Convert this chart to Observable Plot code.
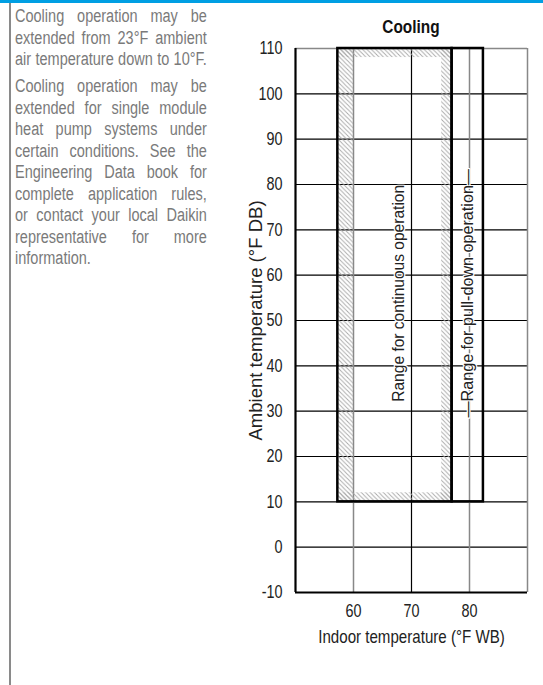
<!DOCTYPE html>
<html><head><meta charset="utf-8">
<script src="https://cdn.jsdelivr.net/npm/d3@7"></script>
<script src="https://cdn.jsdelivr.net/npm/@observablehq/plot@0.6"></script>
<style>
body{margin:0;width:543px;height:685px;position:relative;overflow:hidden;background:#fff;font-family:"Liberation Sans",Arial,sans-serif;}
#bar{position:absolute;left:0;top:0;width:543px;height:3px;background:#009fe3;}
#rule{position:absolute;left:9px;top:3px;width:2px;height:682px;background:#8a8a8a;}
#note{position:absolute;left:15px;top:6px;width:238px;color:#7a7a7a;font-size:18px;line-height:21.5px;transform:scaleX(0.806);transform-origin:0 0;}
#note p{margin:0 0 5.5px 0;}
#note .l{text-align:justify;text-align-last:justify;white-space:nowrap;}
#note .last{text-align:left;text-align-last:left;}
#title{position:absolute;left:295px;width:232px;top:17px;text-align:center;font-weight:bold;font-size:17.5px;color:#111;transform:scaleX(0.88);}
#chart{position:absolute;left:230px;top:40px;}
</style></head><body>
<div id="bar"></div>
<div id="rule"></div>
<div id="note"></div>
<div id="title">Cooling</div>
<div id="chart"></div>
<script>
// ---- data ----
const noteParagraph1 = ["Cooling operation may be", "extended from 23°F ambient", "air temperature down to 10°F."];
const noteParagraph2 = ["Cooling operation may be", "extended for single module", "heat pump systems under", "certain conditions. See the", "Engineering Data book for", "complete application rules,", "or contact your local Daikin", "representative for more", "information."];

const yTicks = [-10, 0, 10, 20, 30, 40, 50, 60, 70, 80, 90, 100, 110];
const xTicks = [60, 70, 80];
const xGridGray = [60, 80];
const xGridBlack = [70];
const xLabel = "Indoor temperature (°F WB)";
const yLabel = "Ambient temperature (°F DB)";

const rangeNames = ["Range for continuous operation", "—Range for pull-down operation—"];
const rangeX1 = [57.3, 77];
const rangeX2 = [77, 82.4];
const rangeYLow = [10, 10];
const rangeYHigh = [110, 110];
const rangeLabelX = [67.7, 79.6];
const rangeLabelY = [56, 56];

// hatched margin inside the continuous range (left, right, top, bottom)
const hatchX1 = [57.3, 75.2, 57.3, 57.3];
const hatchX2 = [60, 77, 77, 77];
const hatchY1 = [10, 10, 108, 10];
const hatchY2 = [110, 110, 110, 12];

// ---- note text ----
const note = document.getElementById("note");
[noteParagraph1, noteParagraph2].forEach((lines, pi) => {
  const p = document.createElement("p");
  lines.forEach((t, i) => {
    const d = document.createElement("div");
    d.className = "l" + (pi === 1 && i === lines.length - 1 ? " last" : "");
    d.textContent = t;
    p.appendChild(d);
  });
  note.appendChild(p);
});

// ---- tables ----
const ranges = rangeNames.map((n, i) => ({x1: rangeX1[i], x2: rangeX2[i], y1: rangeYLow[i], y2: rangeYHigh[i]}));
const labels = rangeNames.map((n, i) => ({text: n, x: rangeLabelX[i], y: rangeLabelY[i]}));
const hatch = hatchX1.map((v, i) => ({x1: v, x2: hatchX2[i], y1: hatchY1[i], y2: hatchY2[i]}));

const font = '"Liberation Sans",Arial,sans-serif';
const plot = Plot.plot({
  width: 313, height: 620,
  marginLeft: 65, marginRight: 16, marginTop: 8, marginBottom: 68,
  style: {fontFamily: font, fontSize: "18px", color: "#222", background: "transparent", overflow: "visible"},
  x: {domain: [50, 90]},
  y: {domain: [-10, 110]},
  marks: [
    Plot.ruleY(yTicks, {stroke: "#000", strokeWidth: 1.2}),
    Plot.ruleX(xGridGray, {stroke: "#888", strokeWidth: 1.5}),
    Plot.ruleX(xGridBlack, {stroke: "#000", strokeWidth: 1.2}),
    Plot.rect(hatch, {x1: "x1", x2: "x2", y1: "y1", y2: "y2", fill: "url(#hatch)"}),
    Plot.ruleY([110], {stroke: "#888", strokeWidth: 1.5}),
    Plot.ruleX([90], {stroke: "#888", strokeWidth: 1.5}),
    Plot.ruleX([50], {stroke: "#000", strokeWidth: 2.2}),
    Plot.ruleY([-10], {stroke: "#000", strokeWidth: 2.2}),
    Plot.rect(ranges, {x1: "x1", x2: "x2", y1: "y1", y2: "y2", fill: "none", stroke: "#000", strokeWidth: 2.5}),
    Plot.text(labels, {x: "x", y: "y", text: "text", rotate: -90, fontSize: 17, fill: "#222", stroke: "white", strokeWidth: 2.5, paintOrder: "stroke"}),
    Plot.axisX({ticks: xTicks, tickSize: 0, tickPadding: 12, tickFormat: d => String(d), label: null, fontSize: 18}),
    Plot.axisY({ticks: yTicks, tickSize: 0, tickPadding: 13, tickFormat: d => String(d), label: null, fontSize: 18}),
    Plot.text([xLabel], {text: d => d, frameAnchor: "bottom", dy: 45, textAnchor: "middle", lineAnchor: "middle", fill: "#222", fontSize: 18}),
    Plot.text([yLabel], {text: d => d, frameAnchor: "left", dx: -39, rotate: -90, textAnchor: "middle", lineAnchor: "middle", fill: "#222", fontSize: 18})
  ]
});

// hatch pattern
const defs = d3.select(plot).insert("defs", ":first-child");
const pat = defs.append("pattern").attr("id", "hatch").attr("patternUnits", "userSpaceOnUse")
  .attr("width", 4.4).attr("height", 4.4);
pat.append("path").attr("d", "M-1,-1L5.4,5.4M-1,3.4L1,5.4M3.4,-1L5.4,1")
  .attr("stroke", "#a8a8a8").attr("stroke-width", 0.9).attr("fill", "none");

// condense svg text horizontally about each text's anchor (mimics a condensed face)
const condense = new Map([[xLabel, 0.84], [yLabel, 1.03], [rangeNames[0], 0.915], [rangeNames[1], 0.95]]);
d3.select(plot).selectAll("text").each(function() {
  const k = condense.get(this.textContent) ?? 0.8;
  const t = this.getAttribute("transform") || "";
  this.setAttribute("transform", t + ` scale(${k},1)`);
});

document.getElementById("chart").appendChild(plot);
</script>
</body></html>
